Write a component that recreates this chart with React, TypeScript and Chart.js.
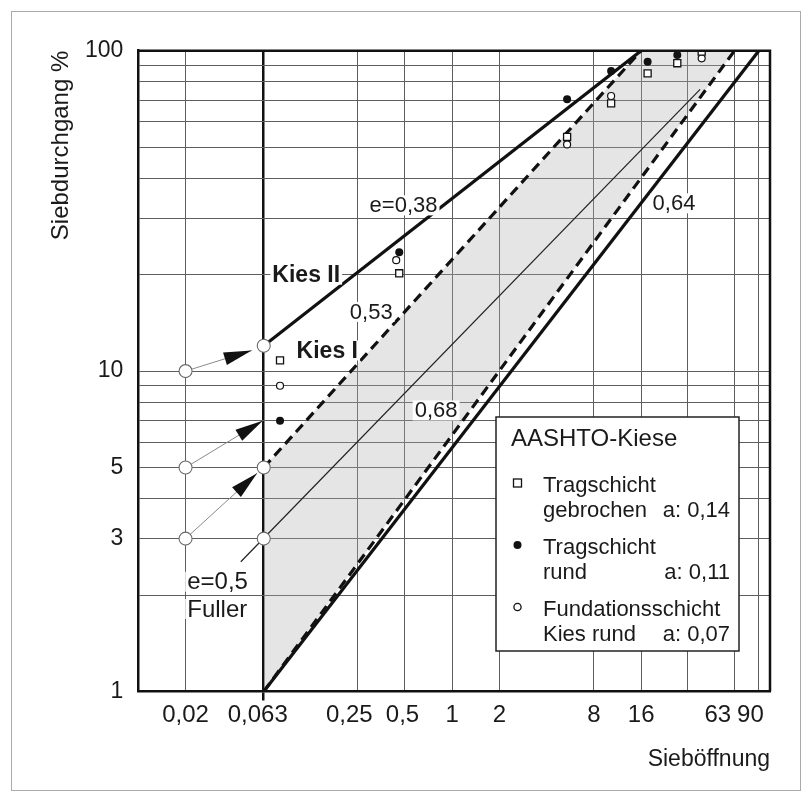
import React, { useEffect, useRef } from 'react';
import { Chart, registerables } from 'chart.js';

Chart.register(...registerables);

// ---- axis ticks ----
const xTickValues = [0.02, 0.063, 0.25, 0.5, 1, 2, 8, 16, 31.5, 63, 90];
const xTickLabels = ['0,02', '0,063\u2002', '0,25\u2002\u2009', '0,5\u2009', '1', '2', '8', '16', '', '63\u2002\u2002\u2009\u2009', '90\u2002\u2009'];
const yTickValues = [1, 2, 3, 4, 5, 6, 7, 8, 9, 10, 20, 30, 40, 50, 60, 70, 80, 90, 100];
const yTickLabels = ['1', '', '3', '', '5', '', '', '', '', '10', '', '', '', '', '', '', '', '', '100'];

// ---- grading curves (Sieböffnung mm, Siebdurchgang %) ----
const kiesII = [{ x: 0.063, y: 12 }, { x: 16, y: 100 }];
const kiesIUpper = [{ x: 0.063, y: 5 }, { x: 16, y: 100 }];
const kiesILower = [{ x: 0.063, y: 1 }, { x: 63, y: 100 }];
const curve064 = [{ x: 0.063, y: 1 }, { x: 90, y: 100 }];
const fuller = [{ x: 0.045, y: 2.54 }, { x: 38, y: 75.7 }];
const bandTop = [{ x: 0.063, y: 5 }, { x: 16, y: 100 }, { x: 63, y: 100 }];
const bandBottom = [{ x: 0.063, y: 1 }, { x: 63, y: 100 }];

// ---- reference circles and arrows ----
const refCircles = [
  { x: 0.02, y: 10 }, { x: 0.02, y: 5 }, { x: 0.02, y: 3 },
  { x: 0.063, y: 12 }, { x: 0.063, y: 5 }, { x: 0.063, y: 3 },
];
const arrowStarts = [{ x: 0.02, y: 10 }, { x: 0.02, y: 5 }, { x: 0.02, y: 3 }];
const arrowTips = [{ x: 0.0528, y: 11.6 }, { x: 0.0621, y: 7.0 }, { x: 0.0572, y: 4.8 }];

// ---- AASHTO samples ----
const tragGebrochen = [
  { x: 0.08, y: 10.8 }, { x: 0.46, y: 20.2 }, { x: 5.4, y: 53.8 }, { x: 10.3, y: 68.5 },
  { x: 17.6, y: 85 }, { x: 27.2, y: 91.4 }, { x: 38.9, y: 99.3 },
];
const tragRund = [
  { x: 0.08, y: 7.0 }, { x: 0.46, y: 23.5 }, { x: 5.4, y: 70.5 }, { x: 10.3, y: 86.4 },
  { x: 17.6, y: 92.4 }, { x: 27.2, y: 97 },
];
const fundation = [
  { x: 0.08, y: 9.0 }, { x: 0.44, y: 22.2 }, { x: 5.4, y: 51.0 }, { x: 10.3, y: 72.2 },
  { x: 38.9, y: 94.7 },
];

// ---- labels on the plot ----
const plotTexts = [
  { text: 'e=0,38', x: 0.49, y: 32.9, bold: false, size: 22, align: 'center' },
  { text: 'Kies II', x: 0.1175, y: 20, bold: true, size: 23, align: 'center' },
  { text: '0,53', x: 0.305, y: 15.3, bold: false, size: 22, align: 'center' },
  { text: 'Kies I', x: 0.16, y: 11.6, bold: true, size: 23, align: 'center' },
  { text: '0,68', x: 0.79, y: 7.54, bold: false, size: 22, align: 'center' },
  { text: '0,64', x: 25.9, y: 33.4, bold: false, size: 22, align: 'center' },
  { text: 'e=0,5', x: 0.0205, y: 2.2, bold: false, size: 24, align: 'left' },
  { text: 'Fuller', x: 0.0205, y: 1.81, bold: false, size: 24, align: 'left' },
];

const legendTitle = 'AASHTO-Kiese';
const legendItems = [
  { marker: 'square', lines: ['Tragschicht', 'gebrochen'], a: 'a: 0,14' },
  { marker: 'dot', lines: ['Tragschicht', 'rund'], a: 'a: 0,11' },
  { marker: 'circle', lines: ['Fundationsschicht', 'Kies rund'], a: 'a: 0,07' },
];

const FONT = "'Liberation Sans', Arial, Helvetica, sans-serif";
const near = (a: number, b: number) => Math.abs(a - b) < 1e-6 * Math.max(1, Math.abs(b));

const overlayPlugin = {
  id: 'overlay',
  afterDatasetsDraw(chart: any) {
    const ctx = chart.ctx;
    const xs = chart.scales.x;
    const ys = chart.scales.y;
    ctx.save();
    // arrowheads
    ctx.fillStyle = '#111';
    arrowStarts.forEach((s, i) => {
      const t = arrowTips[i];
      const x0 = xs.getPixelForValue(s.x), y0 = ys.getPixelForValue(s.y);
      const x1 = xs.getPixelForValue(t.x), y1 = ys.getPixelForValue(t.y);
      const dx = x1 - x0, dy = y1 - y0, len = Math.hypot(dx, dy);
      const ux = dx / len, uy = dy / len;
      const L = 28, W = 6.5;
      const bx = x1 - ux * L, by = y1 - uy * L;
      ctx.beginPath();
      ctx.moveTo(x1, y1);
      ctx.lineTo(bx - uy * W, by + ux * W);
      ctx.lineTo(bx + uy * W, by - ux * W);
      ctx.closePath();
      ctx.fill();
    });
    // texts
    ctx.textBaseline = 'middle';
    plotTexts.forEach((t) => {
      const px = xs.getPixelForValue(t.x);
      const py = ys.getPixelForValue(t.y);
      ctx.font = (t.bold ? 'bold ' : '') + t.size + 'px ' + FONT;
      const w = ctx.measureText(t.text).width;
      const left = t.align === 'left' ? px : px - w / 2;
      ctx.fillStyle = '#fff';
      ctx.fillRect(left - 2, py - 10, w + 4, 20);
      ctx.fillStyle = '#1a1a1a';
      ctx.textAlign = 'left';
      ctx.fillText(t.text, left, py + 1);
    });
    ctx.restore();
  },
  afterDraw(chart: any) {
    const ctx = chart.ctx;
    const a = chart.chartArea;
    ctx.save();
    // top and right frame of the plot
    ctx.strokeStyle = '#111';
    ctx.lineWidth = 2.5;
    ctx.beginPath();
    ctx.moveTo(a.left, a.top);
    ctx.lineTo(a.right, a.top);
    ctx.lineTo(a.right, a.bottom);
    ctx.stroke();

    // legend box
    const bx = 496, by = 417, bw = 243, bh = 234;
    ctx.fillStyle = '#fff';
    ctx.fillRect(bx, by, bw, bh);
    ctx.strokeStyle = '#222';
    ctx.lineWidth = 1.5;
    ctx.strokeRect(bx, by, bw, bh);
    ctx.fillStyle = '#1a1a1a';
    ctx.textBaseline = 'middle';
    ctx.textAlign = 'left';
    ctx.font = '24px ' + FONT;
    ctx.fillText(legendTitle, bx + 15, by + 22);
    ctx.font = '22px ' + FONT;
    legendItems.forEach((it, i) => {
      const y1 = by + 68 + i * 62;
      const mx = 517.5, my = y1 - 2;
      ctx.lineWidth = 1.3;
      ctx.strokeStyle = '#111';
      if (it.marker === 'square') {
        ctx.fillStyle = '#fff';
        ctx.fillRect(mx - 4, my - 4, 8, 8);
        ctx.strokeRect(mx - 4, my - 4, 8, 8);
      } else if (it.marker === 'dot') {
        ctx.fillStyle = '#111';
        ctx.beginPath();
        ctx.arc(mx, my, 4, 0, Math.PI * 2);
        ctx.fill();
      } else {
        ctx.fillStyle = '#fff';
        ctx.beginPath();
        ctx.arc(mx, my, 3.6, 0, Math.PI * 2);
        ctx.fill();
        ctx.stroke();
      }
      ctx.fillStyle = '#1a1a1a';
      ctx.textAlign = 'left';
      ctx.fillText(it.lines[0], 543, y1 + 1);
      ctx.fillText(it.lines[1], 543, y1 + 26);
      ctx.textAlign = 'right';
      ctx.fillText(it.a, 730, y1 + 26);
    });

    // outer frame of the figure
    ctx.strokeStyle = '#aaa';
    ctx.lineWidth = 1;
    ctx.strokeRect(11.5, 11.5, 789, 779);
    ctx.restore();
  },
};

export default function App() {
  const ref = useRef<HTMLCanvasElement | null>(null);

  useEffect(() => {
    document.body.style.margin = '0';
    document.body.style.background = '#fff';
    if (!ref.current) return;

    const lineDs = (label: string, data: any[], opts: any) => ({
      label, data, showLine: true, pointRadius: 0, pointHoverRadius: 0,
      borderColor: '#111', backgroundColor: '#111', fill: false, tension: 0, ...opts,
    });

    const chart = new Chart(ref.current, {
      type: 'scatter',
      data: {
        datasets: [
          { label: 'Tragschicht gebrochen', data: tragGebrochen, pointStyle: 'rect', pointRadius: 5,
            pointBackgroundColor: '#fff', pointBorderColor: '#111', pointBorderWidth: 1.3, order: 1 },
          { label: 'Tragschicht rund', data: tragRund, pointStyle: 'circle', pointRadius: 4,
            pointBackgroundColor: '#111', pointBorderColor: '#111', pointBorderWidth: 0, order: 1 },
          { label: 'Fundationsschicht Kies rund', data: fundation, pointStyle: 'circle', pointRadius: 3.5,
            pointBackgroundColor: '#fff', pointBorderColor: '#111', pointBorderWidth: 1.2, order: 1 },
          { label: 'Bezugspunkte', data: refCircles, pointStyle: 'circle', pointRadius: 6.5,
            pointBackgroundColor: '#fff', pointBorderColor: '#6a6a6a', pointBorderWidth: 1.1, order: 2 },
          lineDs('Pfeil 1', [arrowStarts[0], arrowTips[0]], { borderColor: '#8a8a8a', borderWidth: 1, order: 4 }),
          lineDs('Pfeil 2', [arrowStarts[1], arrowTips[1]], { borderColor: '#8a8a8a', borderWidth: 1, order: 4 }),
          lineDs('Pfeil 3', [arrowStarts[2], arrowTips[2]], { borderColor: '#8a8a8a', borderWidth: 1, order: 4 }),
          lineDs('Kies II e=0,38', kiesII, { borderWidth: 3.2, order: 5 }),
          lineDs('Kies I e=0,53', kiesIUpper, { borderWidth: 3.2, borderDash: [10, 6], order: 5 }),
          lineDs('Kies I e=0,68', kiesILower, { borderWidth: 3.2, borderDash: [10, 6], order: 5 }),
          lineDs('e=0,64', curve064, { borderWidth: 3.2, order: 5 }),
          lineDs('Fuller e=0,5', fuller, { borderWidth: 1.2, borderColor: '#222', order: 6 }),
          lineDs('Kies I Band', bandTop, { borderWidth: 0, backgroundColor: 'rgba(175,175,175,0.32)',
            fill: '+1', order: 9 }),
          lineDs('Kies I Band unten', bandBottom, { borderWidth: 0, order: 9 }),
        ],
      },
      options: {
        responsive: false,
        animation: false,
        devicePixelRatio: 1,
        layout: { padding: { left: 0, top: 50.7, right: 41, bottom: 0 } },
        plugins: { legend: { display: false }, tooltip: { enabled: false } },
        events: [],
        scales: {
          x: {
            type: 'logarithmic',
            min: 0.01,
            max: 106,
            afterBuildTicks: (scale: any) => { scale.ticks = xTickValues.map((v) => ({ value: v })); },
            afterFit: (scale: any) => { scale.height = 109.5; },
            ticks: {
              autoSkip: false, maxRotation: 0, minRotation: 0, padding: 0,
              color: '#1a1a1a', font: { family: FONT, size: 24 },
              callback: (value: any) => {
                const i = xTickValues.findIndex((v) => near(v, Number(value)));
                return i >= 0 ? xTickLabels[i] : '';
              },
            },
            grid: {
              color: (c: any) => (c.tick && near(c.tick.value, 0.063) ? '#111' : '#5e5e5e'),
              lineWidth: (c: any) => (c.tick && near(c.tick.value, 0.063) ? 2.5 : 1),
              drawTicks: true,
              tickLength: 9,
              tickColor: (c: any) => (c.tick && near(c.tick.value, 0.063) ? '#111' : 'rgba(0,0,0,0)'),
              tickWidth: 2.5,
            },
            border: { display: true, color: '#111', width: 2.5 },
            title: {
              display: true, text: 'Sieböffnung', align: 'end', color: '#1a1a1a',
              font: { family: FONT, size: 23 }, padding: { top: 0, bottom: 27.2 },
            },
          },
          y: {
            type: 'logarithmic',
            min: 1,
            max: 100,
            afterBuildTicks: (scale: any) => { scale.ticks = yTickValues.map((v) => ({ value: v })); },
            afterFit: (scale: any) => { scale.width = 138.3; },
            ticks: {
              autoSkip: false, padding: 15, color: '#1a1a1a', font: { family: FONT, size: 23 },
              callback: (value: any) => {
                const i = yTickValues.findIndex((v) => near(v, Number(value)));
                return i >= 0 ? yTickLabels[i] : '';
              },
            },
            grid: { color: '#5e5e5e', lineWidth: 1, drawTicks: false },
            border: { display: true, color: '#111', width: 2.5 },
            title: {
              display: true, text: 'Siebdurchgang %', align: 'end', color: '#1a1a1a',
              font: { family: FONT, size: 24 }, padding: { top: 46.6, bottom: 0 },
            },
          },
        },
      } as any,
      plugins: [overlayPlugin],
    });
    return () => chart.destroy();
  }, []);

  return (
    <div style={{ width: 811, height: 801, overflow: 'hidden', background: '#fff' }}>
      <canvas ref={ref} width={811} height={801} style={{ display: 'block', width: 811, height: 801 }} />
    </div>
  );
}
